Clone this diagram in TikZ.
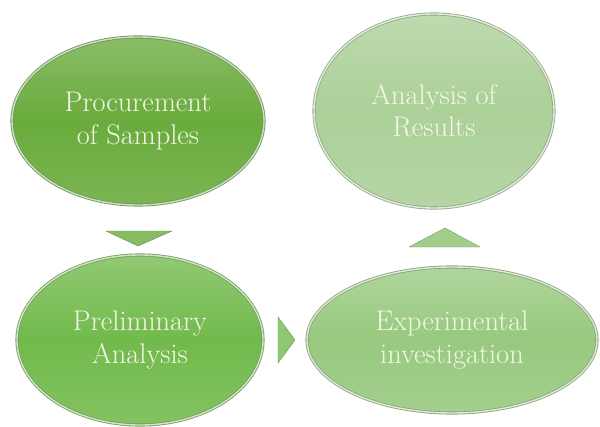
\documentclass[tikz,border=0pt]{standalone}
\usetikzlibrary{shapes.geometric}
\definecolor{procgreen}{HTML}{69AB3C}
\definecolor{prelgreen}{HTML}{72BA4C}
\definecolor{expgreen}{HTML}{98C97F}
\definecolor{resgreen}{HTML}{ABD098}
\definecolor{labelcol}{HTML}{F4F7E6}
\begin{document}
\begin{tikzpicture}[x=0.025cm, y=-0.025cm,
    stage/.style={ellipse, inner sep=0pt, align=center, text=labelcol,
        font=\fontsize{20.2}{23}\selectfont,
        draw=#1!50!gray, line width=0.6pt, double=#1!35!white, double distance=1pt,
        top color=#1!78!white, bottom color=#1!88!white, middle color=#1},
    arrowtri/.style={fill=#1, draw=#1!75!black, line width=0.3pt, line join=round}]
    \useasboundingbox (0,0) rectangle (600,427);
    \node[stage=procgreen, minimum width=6.3cm, minimum height=4.2cm] (proc) at (138,121) {Procurement\\of Samples};
    \node[stage=resgreen, minimum width=6cm, minimum height=4.85cm] (res) at (434,111) {Analysis of\\Results};
    \node[stage=prelgreen, minimum width=6.15cm, minimum height=4.25cm] (prel) at (140,340) {Preliminary\\Analysis};
    \node[stage=expgreen, minimum width=7.25cm, minimum height=3.65cm] (exp) at (452,340) {Experimental\\investigation};
    \filldraw[arrowtri=procgreen!80!white] (106,231) -- (172,231) -- (138,246) -- cycle;
    \filldraw[arrowtri=prelgreen!80!white] (278,317) -- (295,340) -- (278,363) -- cycle;
    \filldraw[arrowtri=expgreen!90!white] (409,247) -- (445,228) -- (480,247) -- cycle;
\end{tikzpicture}
\end{document}
